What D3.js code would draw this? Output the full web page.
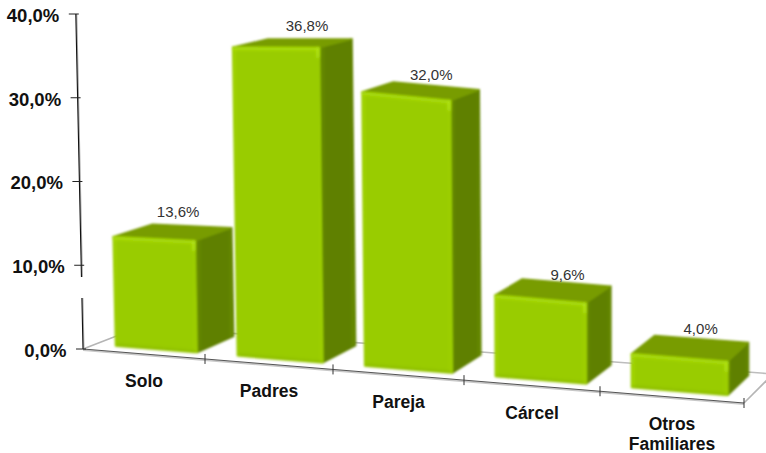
<!DOCTYPE html>
<html><head><meta charset="utf-8">
<script src="https://cdnjs.cloudflare.com/ajax/libs/d3/7.8.5/d3.min.js"></script>
<style>html,body{margin:0;padding:0;background:#fff}svg{display:block}text{font-family:"Liberation Sans",Arial,sans-serif}</style>
</head><body><svg id="c" width="766" height="453"></svg>
<script>
const categories = ["Solo", "Padres", "Pareja", "Cárcel", "Otros Familiares"];
const values = [13.6, 36.8, 32.0, 9.6, 4.0];
const valueLabels = ["13,6%", "36,8%", "32,0%", "9,6%", "4,0%"];
const valueTicks = [0, 10, 20, 30, 40];

// layout: nudges for the value labels, relative to the back top edge of each bar
const labelDx = [-14, -3, -5, 1, -1];
const labelDy = [-14, -13, -11, -8, -10];

const svg = d3.select("#c");
const defs = svg.append("defs");
defs.append("filter").attr("id","soft").attr("x","-5%").attr("y","-5%").attr("width","110%").attr("height","110%")
  .append("feGaussianBlur").attr("stdDeviation",0.85);
defs.append("filter").attr("id","softer").attr("x","-20%").attr("y","-20%").attr("width","140%").attr("height","140%")
  .append("feGaussianBlur").attr("stdDeviation",1.3);
const grad = defs.append("linearGradient").attr("id","front").attr("x1",0).attr("x2",1).attr("y1",0).attr("y2",0);
[[0,"#a6da0c"],[0.05,"#99cc00"],[0.94,"#99cc00"],[1,"#9fd004"]].forEach(s=>grad.append("stop").attr("offset",s[0]).attr("stop-color",s[1]));
const gradS = defs.append("linearGradient").attr("id","side").attr("x1",0).attr("x2",1).attr("y1",0).attr("y2",0);
[[0,"#6a8e00"],[0.2,"#5f8000"],[0.85,"#5f8000"],[1,"#6b8f00"]].forEach(s=>gradS.append("stop").attr("offset",s[0]).attr("stop-color",s[1]));

// perspective model of the chart box; u = category position, v = value, w = depth
const xs = d3.scaleLinear().domain([0,1,2,3,4,5]).range([83,205,333,464,600,744]);
const yFloor = d3.scaleLinear().domain([83,744]).range([349,403]);
const yAxis = d3.scaleLinear().domain([0,40]).range([349,14]);
const lean = d3.scaleLinear().domain([0,4]).range([0.18,0]).clamp(true);
const pxPerUnit = d3.scaleLinear().domain([0.5,1.5,2.5,3.5]).range([8.1,8.63,8.63,8.5]).clamp(true);
const depthX = d3.scaleLinear().domain([0,5]).range([40,20]);
const depthY = d3.scaleLinear().domain([0,5]).range([-15.5,-20]);

function P(u,v,w){
  const x0 = xs(u);
  return [x0 + w*depthX(u) - v*lean(u),
          yFloor(x0) + w*(depthY(u)+0.23*v) - v*pxPerUnit(u)];
}
const BAR0=0.17, BAR1=0.845, W0=0.3, W1=1.3, FLOOR=1.45;
const poly = pts => pts.map(p=>p.join(",")).join(" ");
const line = d3.line();

// floor
const floor = svg.append("g");
const us = d3.range(0,6);
floor.append("path").attr("d",line(us.map(u=>P(u,0,FLOOR)))).attr("fill","none").attr("stroke","#bdbdbd").attr("stroke-width",1.6);
[0,5].forEach(u=>floor.append("path").attr("d",line([P(u,0,0),P(u,0,FLOOR)])).attr("fill","none").attr("stroke","#b5b5b5").attr("stroke-width",1.6));
floor.append("path").attr("d",line([P(0,0,0),P(5,0,0)])).attr("fill","none").attr("stroke","#c8c8c8").attr("stroke-width",2).attr("transform","translate(0,1)");
floor.append("path").attr("d",line([P(0,0,0),P(5,0,0)])).attr("fill","none").attr("stroke","#555").attr("stroke-width",1);

// category ticks
const xAxisG = svg.append("g").call(d3.axisBottom(xs).tickValues(us).tickSize(10).tickFormat(""));
xAxisG.select(".domain").remove();
xAxisG.selectAll(".tick").attr("transform",d=>`translate(${xs(d)},${yFloor(xs(d))-5})`).attr("opacity",d=>d===0?0:1)
  .select("line").attr("stroke","#333").attr("stroke-width",1);

// value axis
const axX = v => xs(0) - v*lean(0);
svg.append("line").attr("x1",axX(0)+0.8).attr("y1",yAxis(0)).attr("x2",axX(40)+0.8).attr("y2",yAxis(40))
  .attr("stroke","#aaa").attr("stroke-width",1.4).attr("stroke-dasharray","51 21 300");
svg.append("line").attr("x1",axX(0)).attr("y1",yAxis(0)).attr("x2",axX(40)).attr("y2",yAxis(40))
  .attr("stroke","#111").attr("stroke-width",1.1).attr("stroke-dasharray","51 21 300");
const yAxisG = svg.append("g").call(d3.axisLeft(yAxis).tickValues(valueTicks).tickSize(7).tickPadding(9.5)
  .tickFormat(d=>d3.format(".1f")(d).replace(".",",")+"%"));
yAxisG.select(".domain").remove();
yAxisG.selectAll(".tick").attr("transform",d=>`translate(${axX(d)},${yAxis(d)})`);
yAxisG.selectAll(".tick line").attr("x2",-7).attr("x1",3).attr("stroke","#222").attr("stroke-width",1);
yAxisG.selectAll(".tick text").attr("fill","#111").attr("font-weight","bold").attr("font-size",18.5)
  .attr("font-family",'"Liberation Sans",Arial,sans-serif').attr("dy","0.42em");

// bars
const bars = svg.append("g").selectAll("g").data(values).join("g").attr("filter","url(#soft)");
bars.each(function(v,i){
  const g = d3.select(this);
  const a=i+BAR0, b=i+BAR1;
  const f0=P(a,0,W0), f1=P(b,0,W0), f2=P(b,v,W0), f3=P(a,v,W0);
  const k1=P(b,0,W1), k2=P(b,v,W1), k3=P(a,v,W1);
  g.append("polygon").attr("points",poly([f1,k1,k2,f2])).attr("fill","url(#side)").attr("stroke","#5f8000").attr("stroke-width",1.5).attr("stroke-linejoin","round");
  g.append("polygon").attr("points",poly([f3,f2,k2,k3])).attr("fill","#789c00").attr("stroke","#789c00").attr("stroke-width",1.5).attr("stroke-linejoin","round");
  g.append("polygon").attr("points",poly([f0,f1,f2,f3])).attr("fill","url(#front)").attr("stroke","#99cc00").attr("stroke-width",1.5).attr("stroke-linejoin","round");
  const hi = g.append("g").attr("filter","url(#softer)").attr("fill","none").attr("stroke-linecap","round");
  hi.append("path").attr("d",line([[f3[0]+1,f3[1]+1.5],[f2[0]-1,f2[1]+1.5]])).attr("stroke","#aee00f").attr("stroke-width",2.5);
  hi.append("path").attr("d",line([[f2[0]-1.5,f2[1]+1],[f2[0]-1.5,f2[1]+9]])).attr("stroke","#b6e81a").attr("stroke-width",2.5);
  hi.append("path").attr("d",line([[f0[0]+2,f0[1]-1],[f1[0]-2,f1[1]-1]])).attr("stroke","#8dbc00").attr("stroke-width",2);
});

// value labels
svg.append("g").selectAll("text").data(values).join("text")
  .attr("x",(v,i)=>(P(i+BAR0,v,W1)[0]+P(i+BAR1,v,W1)[0])/2+labelDx[i])
  .attr("y",(v,i)=>(P(i+BAR0,v,W1)[1]+P(i+BAR1,v,W1)[1])/2+labelDy[i])
  .attr("text-anchor","middle").attr("dy","0.35em").attr("font-size",15).attr("fill","#333")
  .text((v,i)=>valueLabels[i]);

// category labels
const cat = svg.append("g").selectAll("text").data(categories).join("text")
  .attr("text-anchor","middle").attr("font-size",17.5).attr("font-weight","bold").attr("fill","#111")
  .attr("transform",(d,i)=>`translate(${xs(i+0.5)},${yFloor(xs(i+0.5))+27})`);
cat.each(function(d){
  const parts = d.split(" ");
  d3.select(this).selectAll("tspan").data(parts).join("tspan")
    .attr("x",0).attr("y",(p,j)=>j*19.5).attr("dy","0.35em").text(p=>p);
});
</script></body></html>
